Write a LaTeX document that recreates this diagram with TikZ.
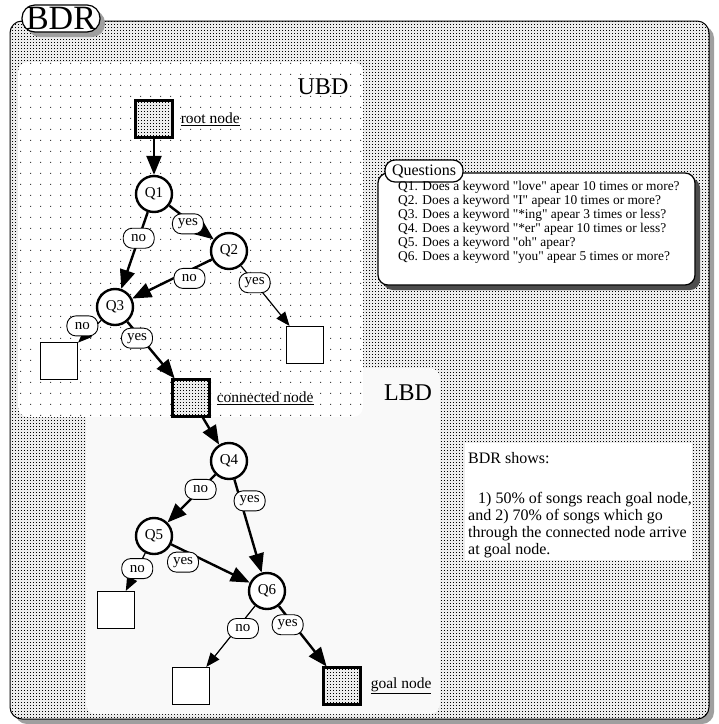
\documentclass[tikz,border=0pt]{standalone}
\usepackage{fontspec}
\setmainfont{Liberation Serif}
\usetikzlibrary{arrows.meta,positioning,patterns,shadows}

\pgfdeclarepatternformonly{bdrgrid}{\pgfqpoint{0pt}{0pt}}{\pgfqpoint{3pt}{3pt}}{\pgfqpoint{3pt}{3pt}}{%
  \pgfpathrectangle{\pgfqpoint{0pt}{0pt}}{\pgfqpoint{1.2pt}{1.2pt}}%
  \pgfusepath{fill}}
\pgfdeclarepatternformonly{ubddots}{\pgfqpoint{0pt}{0pt}}{\pgfqpoint{10pt}{11pt}}{\pgfqpoint{10pt}{11pt}}{%
  \pgfpathrectangle{\pgfqpoint{0pt}{0pt}}{\pgfqpoint{1.2pt}{1.2pt}}%
  \pgfusepath{fill}}

\newcommand{\qq}[1]{\textquotedbl#1\textquotedbl}

\tikzset{
  qnode/.style={circle, draw=black, fill=white, line width=2.4pt, minimum size=36pt, inner sep=0pt, font=\fontsize{15}{15}\selectfont},
  leaf/.style={rectangle, draw=black, fill=white, line width=1.2pt, minimum size=37pt, inner sep=0pt},
  marked/.style={rectangle, draw=black, line width=2.6pt, minimum size=36.5pt, inner sep=0pt, preaction={fill=gray!15}, pattern=bdrgrid, pattern color=black},
  lbl/.style={draw=black, fill=white, line width=0.9pt, rounded corners=9pt, minimum width=31pt, minimum height=20pt, inner xsep=3pt, inner ysep=1pt, font=\fontsize{15}{15}\selectfont},
  tag/.style={inner sep=1pt, font=\fontsize{15.5}{15.5}\selectfont},
  mainarc/.style={line width=2.4pt, -{Triangle[length=19pt, width=15pt]}},
  sidearc/.style={line width=1.2pt, -{Triangle[length=14pt, width=11pt]}},
}

\begin{document}
\begin{tikzpicture}[x=1pt, y=-1pt]
	\useasboundingbox (0,0) rectangle (719,724);

	% BDR panel
	\fill[gray!75, rounded corners=12pt] (15,26) rectangle (714,724);
	\draw[line width=1pt, rounded corners=12pt, preaction={fill=gray!15}, pattern=bdrgrid, pattern color=black] (10,21) rectangle (709,719);
	\node[draw=black, fill=white, line width=1.2pt, rounded corners=13pt, minimum width=78pt, minimum height=27pt, inner sep=0pt, font=\fontsize{34}{34}\selectfont, drop shadow={shadow xshift=5pt, shadow yshift=-5pt, opacity=1, fill=gray!75}] (bdr) at (61,18.5) {BDR};

	% LBD and UBD areas
	\fill[gray!5, rounded corners=10pt] (86,368) rectangle (440,714);
	\fill[rounded corners=10pt, preaction={fill=white}, pattern=ubddots, pattern color=gray!50!black] (18,62) rectangle (363,417);
	\node[font=\fontsize{24}{24}\selectfont] (ubd) at (323,87) {UBD};
	\node[font=\fontsize{24}{24}\selectfont] (lbd) at (408,393) {LBD};

	% Questions
	\node[draw=black, fill=white, line width=1.2pt, rounded corners=10pt, minimum width=317pt, minimum height=112pt, drop shadow={shadow xshift=5pt, shadow yshift=-5pt, opacity=1, fill=gray!60!black}] (qbox) at (536.5,229) {};
	\node[draw=black, fill=white, line width=1.2pt, rounded corners=10pt, minimum width=78pt, minimum height=22pt, inner sep=0pt, font=\fontsize{16}{16}\selectfont] (qtab) at (424,171) {Questions};
	\node[anchor=north west, inner sep=0pt, align=left, font=\fontsize{13.4}{14}\selectfont] (qtext) at (398,181) {%
		Q1. Does a keyword \qq{love} apear 10 times or more?\\
		Q2. Does a keyword \qq{I} apear 10 times or more?\\
		Q3. Does a keyword \qq{*ing} apear 3 times or less?\\
		Q4. Does a keyword \qq{*er} apear 10 times or less?\\
		Q5. Does a keyword \qq{oh} apear?\\
		Q6. Does a keyword \qq{you} apear 5 times or more?};

	% Summary
	\node[fill=white, minimum width=227pt, minimum height=117pt, anchor=north west] (shows) at (465,443) {};
	\node[anchor=north west, inner sep=0pt, align=left, font=\fontsize{16}{17}\selectfont] (summary) at (468,452) {%
		BDR shows:\\[23pt]
		\hspace*{10pt}1) 50\% of songs reach goal node,\\
		and 2) 70\% of songs which go\\
		through the connected node arrive\\
		at goal node.};

	% Define nodes with their coordinates
	\node[marked] (root) at (154,119) {};
	\node[qnode] (Q1) at (154,194) {Q1};
	\node[qnode] (Q2) at (229,251) {Q2};
	\node[qnode] (Q3) at (115,307) {Q3};
	\node[leaf] (leafA) at (59,361) {};
	\node[leaf] (leafB) at (305,345) {};
	\node[marked] (conn) at (191,398) {};
	\node[qnode] (Q4) at (229,461) {Q4};
	\node[qnode] (Q5) at (154,536) {Q5};
	\node[qnode] (Q6) at (267,591) {Q6};
	\node[leaf] (leafC) at (116,610) {};
	\node[leaf] (leafD) at (191,686) {};
	\node[marked] (goal) at (342,686) {};

	\node[tag, right=6pt of root] (rootlbl) {\underline{root node}};
	\node[tag, right=5pt of conn] (connlbl) {\underline{connected node}};
	\node[tag, right=8pt of goal] (goallbl) {\underline{goal node}};

	% Draw edges with labels
	\draw[mainarc] (root) -- (Q1);
	\draw[mainarc] (Q1) -- (Q3) node[lbl, pos=0.34] (q1no) {no};
	\draw[mainarc] (Q1) -- (Q2) node[lbl, pos=0.42, yshift=-4pt] (q1yes) {yes};
	\draw[mainarc] (Q2) -- (Q3) node[lbl, pos=0.28, yshift=-8pt] (q2no) {no};
	\draw[sidearc] (Q2) -- (leafB) node[lbl, pos=0.28] (q2yes) {yes};
	\draw[sidearc] (Q3) -- (leafA) node[lbl, pos=0.25, xshift=-13pt] (q3no) {no};
	\draw[mainarc] (Q3) -- (conn) node[lbl, pos=0.29, xshift=-4pt] (q3yes) {yes};
	\draw[mainarc] (conn) -- (Q4);
	\draw[mainarc] (Q4) -- (Q5) node[lbl, pos=0.31] (q4no) {no};
	\draw[mainarc] (Q4) -- (Q6) node[lbl, pos=0.23, xshift=9pt] (q4yes) {yes};
	\draw[sidearc] (Q5) -- (leafC) node[lbl, pos=0.41] (q5no) {no};
	\draw[mainarc] (Q5) -- (Q6) node[lbl, pos=0.15, yshift=-12pt] (q5yes) {yes};
	\draw[sidearc] (Q6) -- (leafD) node[lbl, pos=0.37, xshift=6pt] (q6no) {no};
	\draw[mainarc] (Q6) -- (goal) node[lbl, pos=0.31, xshift=-6pt] (q6yes) {yes};

\end{tikzpicture}
\end{document}
